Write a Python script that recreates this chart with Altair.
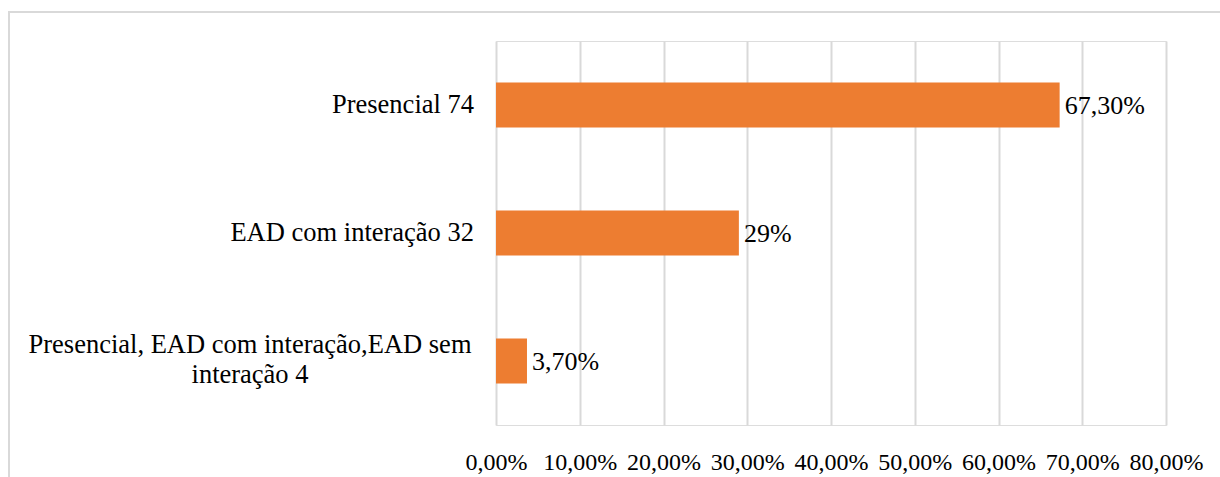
import altair as alt
import pandas as pd

categories = ["Presencial 74", "EAD com interação 32", "Presencial, EAD com interação,EAD sem\ninteração 4"]
values = [67.3, 29.0, 3.7]
value_labels = ["67,30%", "29%", "3,70%"]
x_ticks = [0, 10, 20, 30, 40, 50, 60, 70, 80]

df = pd.DataFrame({"cat": categories, "val": values, "lab": value_labels})
df["multi"] = df["cat"].str.contains("\n")

FONT = "Liberation Serif, Times New Roman, serif"
ORANGE = "#ED7D31"
GRID = "#d9d9d9"

y_enc = alt.Y("cat:N", sort=categories, axis=None,
              scale=alt.Scale(paddingInner=0.65, paddingOuter=0.325))

base = alt.Chart(df)

bars = base.mark_bar(color=ORANGE).encode(
    x=alt.X("val:Q",
            scale=alt.Scale(domain=[0, 80], nice=False),
            axis=alt.Axis(values=x_ticks, title=None, domain=False, ticks=False,
                          grid=True, gridColor=GRID, gridWidth=2,
                          labelFont=FONT, labelFontSize=24, labelColor="#000000",
                          labelPadding=25, labelOverlap=False, labelFlush=False,
                          labelExpr="replace(format(datum.value, '.2f'), '.', ',') + '%'")),
    y=y_enc,
)

val_text = base.mark_text(align="left", baseline="middle", dx=5, dy=1,
                          font=FONT, fontSize=26, color="#000000").encode(
    x="val:Q", y=y_enc, text="lab:N")

cat_single = base.transform_filter("!datum.multi").mark_text(
    align="right", baseline="middle", font=FONT, fontSize=26.5, color="#000000").encode(
    x=alt.value(-22), y=y_enc, text="cat:N")

cat_multi = base.transform_filter("datum.multi").mark_text(
    align="center", baseline="middle", lineBreak="\n", lineHeight=30, dy=-16,
    font=FONT, fontSize=26.5, color="#000000").encode(
    x=alt.value(-246), y=y_enc, text="cat:N")

frame_left = alt.Chart(df).mark_rule(color=GRID, strokeWidth=2).encode(
    x=alt.value(-487), y=alt.value(-30), y2=alt.value(440))
frame_top = alt.Chart(df).mark_rule(color=GRID, strokeWidth=2).encode(
    x=alt.value(-488), x2=alt.value(730), y=alt.value(-29))

chart = alt.layer(frame_left, frame_top, bars, val_text, cat_single, cat_multi).properties(
    width=670, height=384,
    autosize=alt.AutoSizeParams(type="none"),
    padding={"left": 496, "top": 41, "right": 54, "bottom": 52},
).configure_view(stroke=None).configure(background="white")

chart.save("out.html", embed_options={"renderer": "svg", "actions": False})
